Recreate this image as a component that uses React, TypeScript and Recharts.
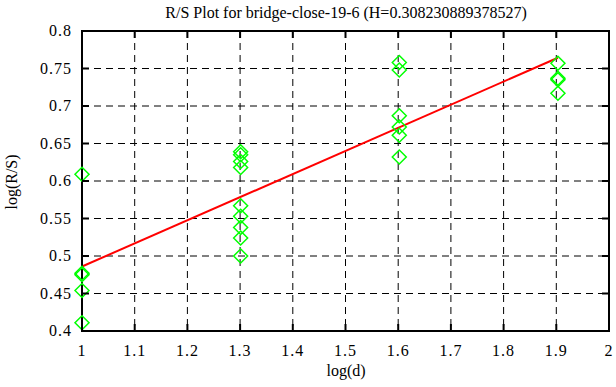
import { ScatterChart, Scatter, XAxis, YAxis, CartesianGrid, ReferenceLine, ReferenceArea } from "recharts";

const xTicks = [1, 1.1, 1.2, 1.3, 1.4, 1.5, 1.6, 1.7, 1.8, 1.9, 2];
const yTicks = [0.4, 0.45, 0.5, 0.55, 0.6, 0.65, 0.7, 0.75, 0.8];

// log(d) for d = 10, 20, 40, 80
const logD = [1, 1.30103, 1.60206, 1.90309];
const rsAt10 = [0.609, 0.477, 0.475, 0.454, 0.411];
const rsAt20 = [0.639, 0.635, 0.626, 0.618, 0.567, 0.553, 0.538, 0.524, 0.5];
const rsAt40 = [0.758, 0.748, 0.687, 0.672, 0.661, 0.632];
const rsAt80 = [0.757, 0.737, 0.735, 0.717];

const hurst = 0.308230889378527;
const fitStart = 0.486;

const points = [rsAt10, rsAt20, rsAt40, rsAt80].flatMap((vals, i) =>
  vals.map((v) => ({ x: logD[i], y: v }))
);

const fitLine = [
  { x: logD[0], y: fitStart },
  { x: logD[3], y: fitStart + hurst * (logD[3] - logD[0]) },
];

const font = "Liberation Serif";
const W = 616;
const H = 387;
const margin = { top: 31, right: 7, left: 0, bottom: 0 };
const yAxisWidth = 82;
const xAxisHeight = 56;
const plotW = W - margin.right - yAxisWidth;
const plotH = H - margin.top - xAxisHeight;

const Diamond = (props: any) => {
  const { cx, cy } = props;
  if (cx == null || cy == null) return <g />;
  const r = 7;
  return (
    <polygon
      points={`${cx},${cy - r} ${cx + r},${cy} ${cx},${cy + r} ${cx - r},${cy}`}
      fill="none"
      stroke="#00ff00"
      strokeWidth={1.5}
    />
  );
};

// labels sit 13px below the axis; tick marks point inward on both sides
const XTick = (props: any) => {
  const { x, y, payload } = props;
  const axisY = y - 13;
  return (
    <g>
      <line x1={x} x2={x} y1={axisY} y2={axisY - 7} stroke="#000" strokeWidth={2} />
      <line x1={x} x2={x} y1={axisY - plotH} y2={axisY - plotH + 7} stroke="#000" strokeWidth={2} />
      <text x={x} y={y} dy={12} textAnchor="middle" fontSize={16} fontFamily={font} letterSpacing={1} fill="#000">
        {String(payload.value)}
      </text>
    </g>
  );
};

const YTick = (props: any) => {
  const { x, y, payload } = props;
  const axisX = x + 10;
  return (
    <g>
      <line x1={axisX} x2={axisX + 7} y1={y} y2={y} stroke="#000" strokeWidth={2} />
      <line x1={axisX + plotW} x2={axisX + plotW - 7} y1={y} y2={y} stroke="#000" strokeWidth={2} />
      <text x={x} y={y} dy={5} textAnchor="end" fontSize={16} fontFamily={font} letterSpacing={1} fill="#000">
        {String(payload.value)}
      </text>
    </g>
  );
};

export default function App() {
  return (
    <div style={{ position: "absolute", left: 0, top: 0, width: W, height: H, background: "#fff" }}>
      <ScatterChart width={W} height={H} margin={margin}>
        <CartesianGrid stroke="#000" strokeDasharray="7 5" strokeWidth={1} />
        <XAxis
          type="number"
          dataKey="x"
          domain={[1, 2]}
          ticks={xTicks}
          height={xAxisHeight}
          stroke="#000"
          strokeWidth={2}
          tickLine={false}
          tickSize={0}
          tickMargin={13}
          tick={<XTick />}
        />
        <YAxis
          type="number"
          dataKey="y"
          domain={[0.4, 0.8]}
          ticks={yTicks}
          width={yAxisWidth}
          stroke="#000"
          strokeWidth={2}
          tickLine={false}
          tickSize={0}
          tickMargin={10}
          tick={<YTick />}
        />
        <ReferenceArea x1={1} x2={2} y1={0.4} y2={0.8} fill="none" stroke="#000" strokeWidth={2} />
        <ReferenceLine segment={fitLine} stroke="#ff0000" strokeWidth={2} />
        <Scatter data={points} shape={<Diamond />} isAnimationActive={false} />
        <text x={346} y={18} textAnchor="middle" fontSize={16} fontFamily={font} fill="#000">
          R/S Plot for bridge-close-19-6 (H=0.308230889378527)
        </text>
        <text x={346} y={376} textAnchor="middle" fontSize={16} fontFamily={font} fill="#000">
          log(d)
        </text>
        <text
          x={0}
          y={0}
          transform="translate(17,182) rotate(-90)"
          textAnchor="middle"
          fontSize={16}
          fontFamily={font}
          fill="#000"
        >
          log(R/S)
        </text>
      </ScatterChart>
    </div>
  );
}
